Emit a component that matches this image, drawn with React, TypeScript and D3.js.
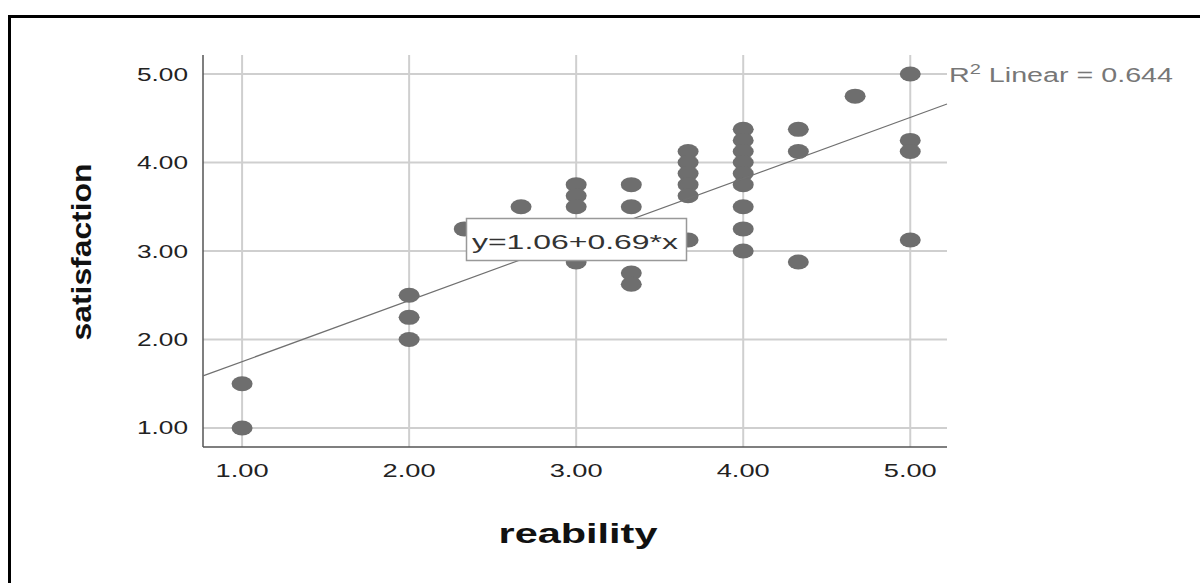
import React from "react";
import * as d3 from "d3";

const reabilityValues = [
  1, 1,
  2, 2, 2,
  2.33,
  2.67,
  3, 3, 3, 3,
  3.33, 3.33, 3.33, 3.33,
  3.67, 3.67, 3.67, 3.67, 3.67, 3.67,
  4, 4, 4, 4, 4, 4, 4, 4, 4,
  4.33, 4.33, 4.33,
  4.67,
  5, 5, 5, 5,
];
const satisfactionValues = [
  1.5, 1.0,
  2.5, 2.25, 2.0,
  3.25,
  3.5,
  3.75, 3.625, 3.5, 2.875,
  3.75, 3.5, 2.75, 2.625,
  4.125, 4.0, 3.875, 3.75, 3.625, 3.125,
  4.375, 4.25, 4.125, 4.0, 3.875, 3.75, 3.5, 3.25, 3.0,
  4.375, 4.125, 2.875,
  4.75,
  5.0, 4.25, 4.125, 3.125,
];
const xTicks = [1, 2, 3, 4, 5];
const yTicks = [1, 2, 3, 4, 5];
const intercept = 1.06;
const slope = 0.69;
const rSquared = "0.644";
const xTitle = "reability";
const yTitle = "satisfaction";

export default function App() {
  const W = 1200;
  const H = 583;
  const left = 203, right = 947, top = 55, bottom = 447;
  const x = d3.scaleLinear().domain([0.766, 5.22]).range([left, right]);
  const y = d3.scaleLinear().domain([0.785, 5.215]).range([bottom, top]);
  const fmt = d3.format(".2f");
  const font = "'Liberation Sans', Arial, sans-serif";
  const pts = reabilityValues.map((v, i) => ({ x: v, y: satisfactionValues[i] }));
  const [x0, x1] = x.domain();
  const linePath = d3.line<number>()
    .x((d) => x(d))
    .y((d) => y(intercept + slope * d))([x0, x1]);

  return (
    <div style={{ position: "fixed", left: 0, top: 0, width: W, height: H, background: "#fff" }}>
      <svg width={W} height={H} style={{ display: "block" }}>
        <rect x={0} y={0} width={W} height={H} fill="#fff" />
        <rect x={9.5} y={16.5} width={W + 20} height={H + 20} fill="none" stroke="#000" strokeWidth={3} />
        {xTicks.map((t) => (
          <line key={"gx" + t} x1={x(t)} x2={x(t)} y1={top} y2={bottom} stroke="#cfcfcf" strokeWidth={2} />
        ))}
        {yTicks.map((t) => (
          <line key={"gy" + t} x1={left} x2={right} y1={y(t)} y2={y(t)} stroke="#cfcfcf" strokeWidth={2} />
        ))}
        <line x1={left} x2={left} y1={top} y2={bottom} stroke="#555" strokeWidth={1.5} />
        <line x1={left} x2={right} y1={bottom} y2={bottom} stroke="#555" strokeWidth={1.5} />
        {yTicks.map((t) => (
          <text key={"ty" + t} x={188} y={y(t) + 6.5} textAnchor="end" fontFamily={font} fontSize={18}
            fill="#222" textLength={51} lengthAdjust="spacingAndGlyphs">{fmt(t)}</text>
        ))}
        {xTicks.map((t) => (
          <text key={"tx" + t} x={x(t)} y={477} textAnchor="middle" fontFamily={font} fontSize={18}
            fill="#222" textLength={53} lengthAdjust="spacingAndGlyphs">{fmt(t)}</text>
        ))}
        <text x={578} y={543} textAnchor="middle" fontFamily={font} fontSize={28} fontWeight="bold"
          fill="#111" textLength={159} lengthAdjust="spacingAndGlyphs">{xTitle}</text>
        <text transform={`translate(91,252) rotate(-90)`} textAnchor="middle" fontFamily={font} fontSize={28}
          fontWeight="bold" fill="#111" textLength={177} lengthAdjust="spacingAndGlyphs">{yTitle}</text>
        {pts.map((p, i) => (
          <ellipse key={"p" + i} cx={x(p.x)} cy={y(p.y)} rx={10.5} ry={7.5} fill="#6e6e6e" />
        ))}
        <path d={linePath || ""} fill="none" stroke="#707070" strokeWidth={1.2} />
        <text x={949} y={82} fontFamily={font} fontSize={20} fill="#777" textLength={224}
          lengthAdjust="spacingAndGlyphs">
          R<tspan dy={-8} fontSize={14}>2</tspan><tspan dy={8}>{" Linear = " + rSquared}</tspan>
        </text>
        <rect x={466.5} y={218.5} width={220} height={42} fill="#fff" stroke="#999" strokeWidth={1.5} />
        <text x={472} y={249} fontFamily={font} fontSize={21} fill="#333" textLength={206}
          lengthAdjust="spacingAndGlyphs">{`y=${intercept.toFixed(2)}+${slope.toFixed(2)}*x`}</text>
      </svg>
    </div>
  );
}
